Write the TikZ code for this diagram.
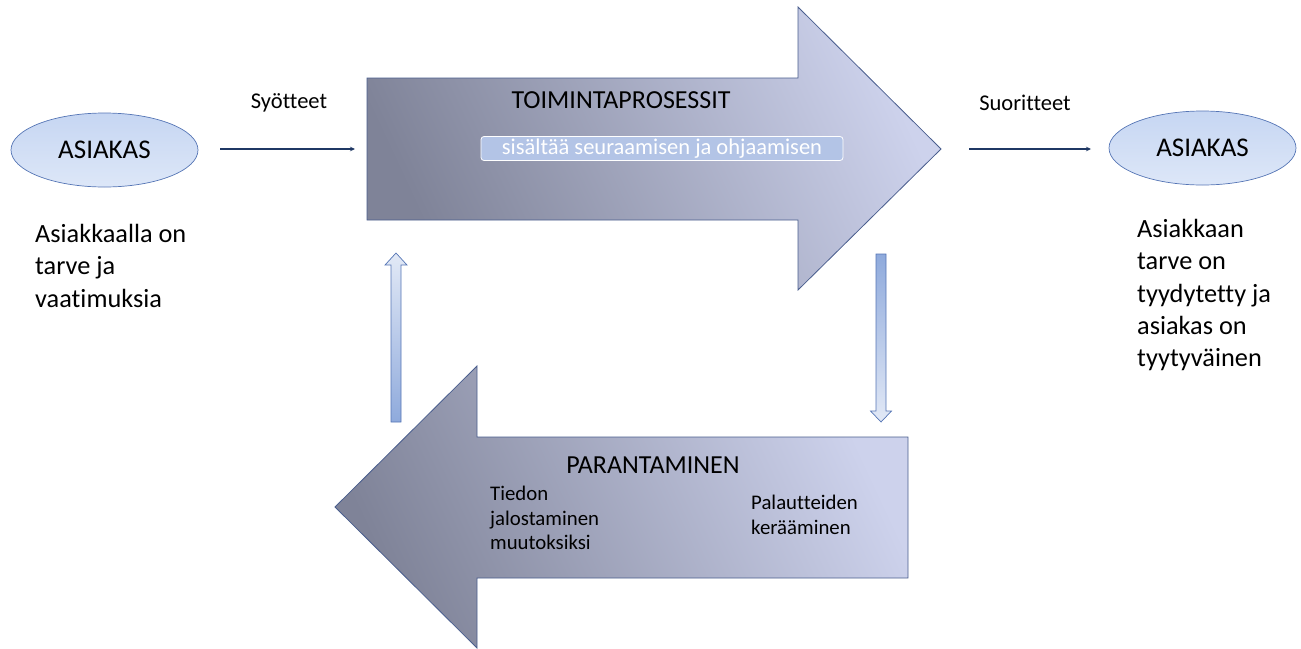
\documentclass[tikz,border=0pt]{standalone}
\usepackage{fontspec}
\setmainfont[Ligatures=NoCommon,RawFeature={-liga}]{Carlito}
\usetikzlibrary{arrows.meta}
\definecolor{bigdark}{HTML}{7F8398}
\definecolor{biglight}{HTML}{CDD2EC}
\definecolor{bigedge}{HTML}{4A5E8E}
\definecolor{elltop}{HTML}{C6D6F2}
\definecolor{ellbot}{HTML}{DDE7F8}
\definecolor{elledge}{HTML}{5575B5}
\definecolor{navy}{HTML}{1F3864}
\definecolor{smdark}{HTML}{8FAADC}
\definecolor{smlight}{HTML}{E2E9F6}
\definecolor{boxfill}{HTML}{B3C4E6}
\tikzset{
  x=1pt, y=-1pt,
  bigarrow/.style={draw=bigedge, line width=0.8pt, line join=miter},
  client/.style={ellipse, draw=elledge, line width=0.7pt, top color=elltop, bottom color=ellbot,
    minimum width=187pt, minimum height=74pt, font=\fontsize{27}{30}\selectfont, inner sep=0pt},
  flow/.style={draw=navy, line width=1.8pt, -{Stealth[length=5pt,width=4.5pt]}},
  flowlabel/.style={font=\fontsize{22.5}{26}\selectfont, inner sep=0pt},
  desc/.style={font=\fontsize{26.3}{32.3}\selectfont, align=left, anchor=north west, inner sep=0pt},
  small/.style={font=\fontsize{20.8}{24.5}\selectfont, align=left, anchor=north west, inner sep=0pt},
  title/.style={font=\fontsize{26}{30}\selectfont, inner sep=0pt},
  smallarrow/.style={draw=elledge, line width=0.7pt},
}
\usetikzlibrary{shapes.geometric}
\begin{document}
\begin{tikzpicture}
\useasboundingbox (0,0) rectangle (1301,648);
% top big arrow
\path[bigarrow, bottom color=bigdark, top color=biglight, shading angle=-65]
  (367,78) -- (798,78) -- (798,7) -- (941,149) -- (798,290) -- (798,220) -- (367,220) -- cycle;
\coordinate (pin) at (367,149);
\coordinate (pout) at (941,149);
\node[title] (toim) at (621,100) {TOIMINTAPROSESSIT};
\node[draw=white, line width=0.8pt, fill=boxfill, rounded corners=3pt, minimum width=362pt, minimum height=24pt,
  inner sep=0pt, text=white, font=\fontsize{22.5}{26}\selectfont] (sis) at (662,148.5) {sisältää seuraamisen ja ohjaamisen};
% bottom big arrow
\path[bigarrow, bottom color=bigdark, top color=biglight, shading angle=-65]
  (908,437) -- (477,437) -- (477,366) -- (335,507) -- (477,648) -- (477,578) -- (908,578) -- cycle;
\node[title] (par) at (653,465) {PARANTAMINEN};
\node[small] (tied) at (490,486) {Tiedon\\jalostaminen\\muutoksiksi};
\node[small] (pal) at (751,495) {Palautteiden\\kerääminen};
% clients
\node[client] (c1) at (104.5,150) {ASIAKAS};
\node[client] (c2) at (1202.5,148) {ASIAKAS};
\coordinate (a1s) at (220,149);
\coordinate (a1e) at (355,149);
\coordinate (a2s) at (969,149);
\coordinate (a2e) at (1091,149);
\draw[flow] (a1s) -- (a1e);
\draw[flow] (a2s) -- (a2e);
\node[flowlabel] (syo) at (289,103) {Syötteet};
\node[flowlabel] (suo) at (1025,103) {Suoritteet};
\node[desc] (d1) at (35,224) {Asiakkaalla on\\tarve ja\\vaatimuksia};
\node[desc] (d2) at (1137,219) {Asiakkaan\\tarve on\\tyydytetty ja\\asiakas on\\tyytyväinen};
% small block arrows
\path[smallarrow, top color=smlight, bottom color=smdark]
  (391,422) -- (391,265) -- (385,265) -- (396,253) -- (407,265) -- (401,265) -- (401,422) -- cycle;
\path[smallarrow, top color=smdark, bottom color=smlight]
  (876,254) -- (876,411) -- (870.5,411) -- (881,422) -- (891.5,411) -- (886,411) -- (886,254) -- cycle;
\end{tikzpicture}
\end{document}
